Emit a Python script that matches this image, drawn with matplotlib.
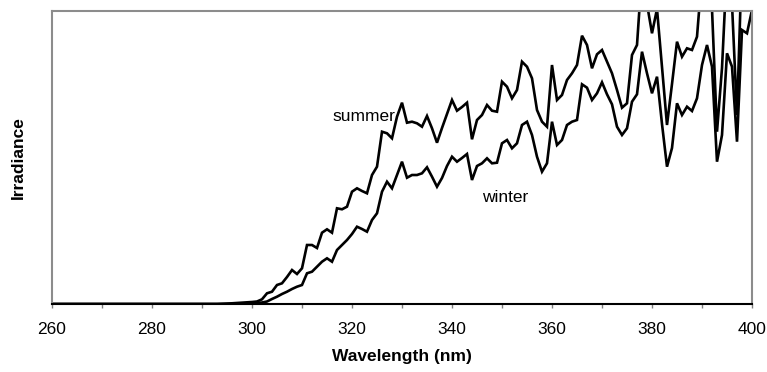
import numpy as np
import matplotlib
matplotlib.use("Agg")
import matplotlib.pyplot as plt

plt.rcParams['font.family'] = ['Liberation Sans', 'DejaVu Sans']

# wavelength grid (nm), 1 nm steps
wavelength = np.arange(260, 401)

# irradiance, relative units
summer = [0] * 34 + [
    0.2, 0.4, 0.7, 1.0, 1.4, 1.7,                                       # 294-299
    2.0, 2.5, 4.7, 10.7, 12.3, 19, 20.7, 27, 34, 30,                    # 300-309
    35.7, 59, 59, 56, 71.3, 74.7, 71.3, 95.7, 94.7, 97.3,               # 310-319
    112.3, 115.7, 113, 110.7, 129, 137.3, 172.3, 170.7, 165.7, 187.3,   # 320-329
    201.3, 181.3, 182.3, 180.7, 177.3, 188, 175.7, 161.3, 176, 190,     # 330-339
    204, 193.3, 197, 201.3, 164.7, 184, 189, 199, 193.3, 192.3,         # 340-349
    222.3, 217.3, 205.7, 214, 242.3, 237.3, 225.7, 194, 182.3, 177.3,   # 350-359
    239, 204, 209, 224, 230.7, 239, 268.3, 259, 235.7, 249.7,           # 360-369
    254, 242.3, 230.7, 214, 196.3, 200.7, 249, 259, 333, 300,           # 370-379
    270.7, 295, 237, 179, 220, 262.3, 247.3, 255.7, 254, 267.3,         # 380-389
    330, 330, 295, 172.3, 236, 340, 300, 189, 347, 330, 330,            # 390-400
]
winter = [0] * 40 + [
    0.5, 1, 1.5, 2.5, 5, 7.3, 10, 12.3, 15, 17.3,                       # 300-309
    19, 30.7, 32.3, 37.3, 42.3, 45.7, 42.3, 54, 59, 64,                 # 310-319
    70, 77.3, 75, 72.3, 84, 90.7, 112.3, 122.3, 115.7, 129,             # 320-329
    142.3, 126.3, 129, 129, 130.7, 136.7, 127.3, 117.3, 126, 138,       # 330-339
    147.3, 142.3, 146, 150, 124, 138, 140.7, 145.7, 140.7, 141.3,       # 340-349
    160.7, 164, 155.7, 160.7, 179, 182.3, 169, 147.3, 132.3, 140.7,     # 350-359
    182.3, 159, 164, 179, 182.3, 184, 219.7, 216.3, 204, 210.7,         # 360-369
    221.7, 209.7, 199.7, 177.3, 169, 175.7, 202.3, 209.7, 252.3, 230.7, # 370-379
    210.7, 227.3, 180, 137.3, 156, 200.7, 189, 197.3, 193, 205.7,       # 380-389
    239, 259, 237.3, 142.3, 169, 250.7, 237.3, 162.3, 274, 270.7, 294,  # 390-400
]

fig = plt.figure(figsize=(7.67, 3.72), dpi=100)
ax = fig.add_axes([52 / 767, 1 - 304 / 372, 700 / 767, 293 / 372])

ax.plot(wavelength, summer, color='black', lw=1.9, solid_joinstyle='miter')
ax.plot(wavelength, winter, color='black', lw=1.9, solid_joinstyle='miter')

ax.set_xlim(260, 400)
ax.set_ylim(0, 293)

ax.set_xticks(np.arange(260, 401, 10))
ax.set_xticklabels([str(v) if v % 20 == 0 else '' for v in range(260, 401, 10)])
ax.tick_params(axis='x', direction='out', length=3, width=1, color='#808080',
               labelsize=12.5, pad=10)
ax.set_yticks([])

for s in ['left', 'top', 'right']:
    ax.spines[s].set_color('#8c8c8c')
    ax.spines[s].set_linewidth(1.5)
ax.spines['bottom'].set_color('black')
ax.spines['bottom'].set_linewidth(1.5)

ax.set_xlabel('Wavelength (nm)', fontsize=12.5, fontweight='bold')
ax.set_ylabel('Irradiance', fontsize=12.5, fontweight='bold')
ax.xaxis.set_label_coords(0.5, -0.152)
ax.yaxis.set_label_coords(-0.038, 0.5)

ax.text(316, 188, 'summer', fontsize=12.5, ha='left', va='center')
ax.text(346, 107, 'winter', fontsize=12.5, ha='left', va='center')

fig.savefig('out.png', dpi=100)
